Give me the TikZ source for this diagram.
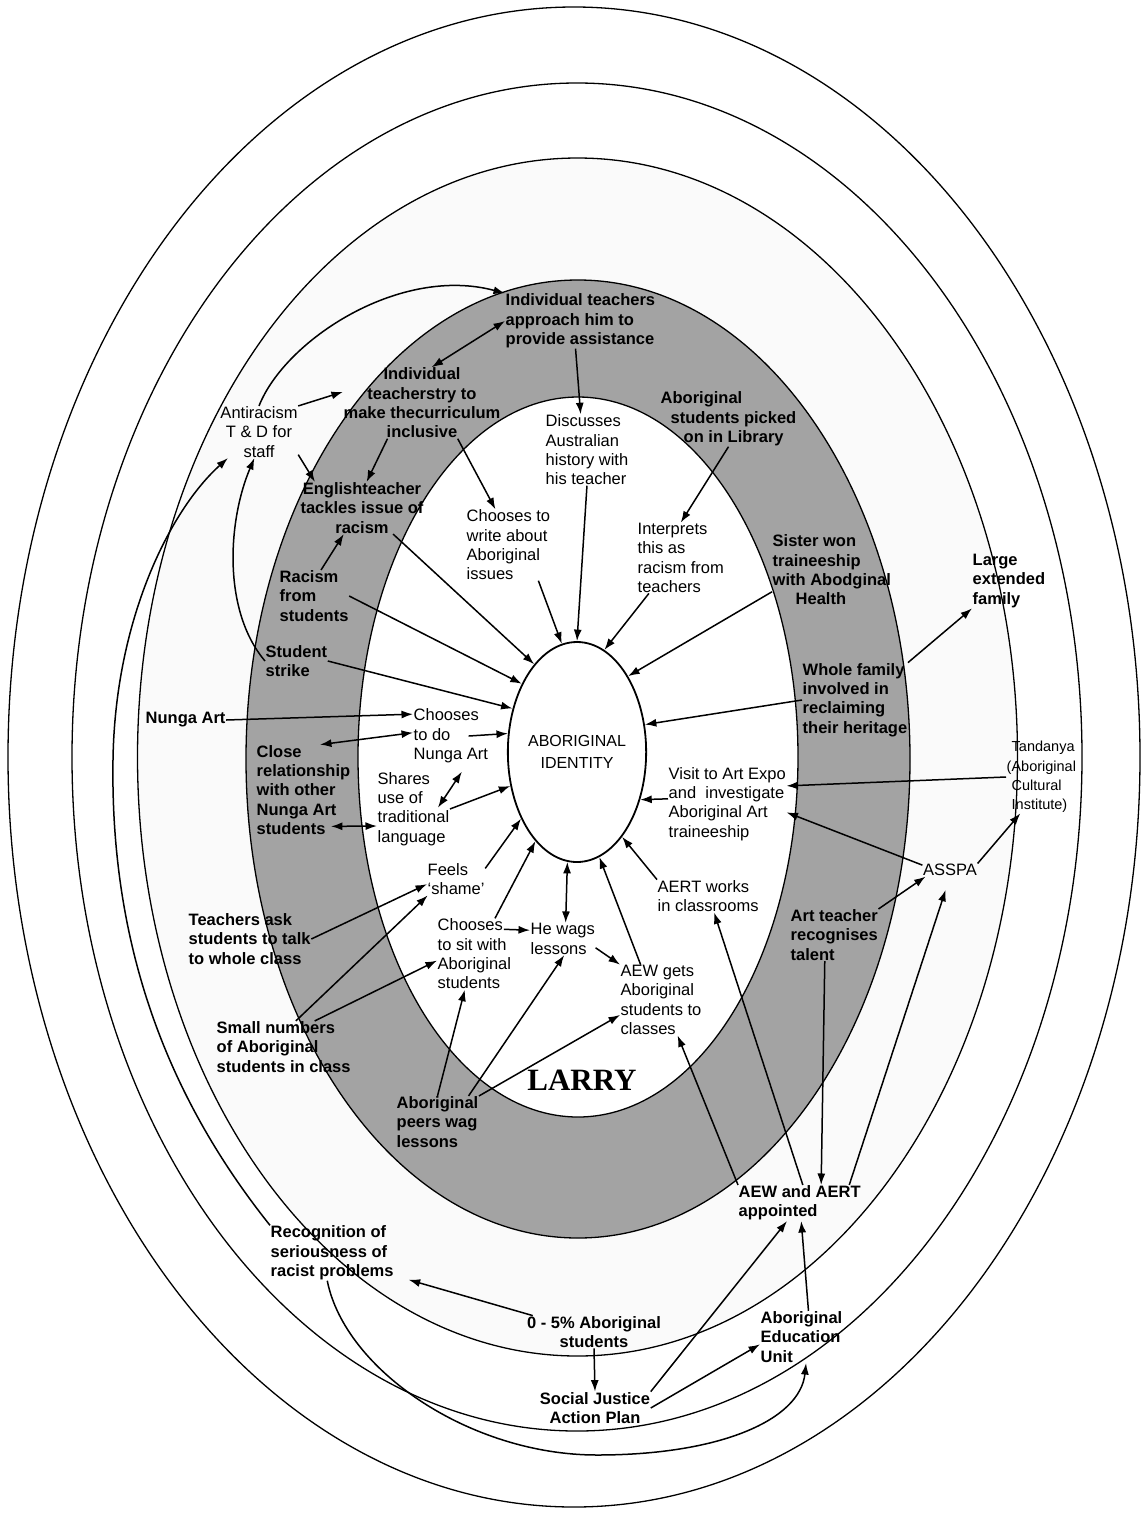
\documentclass[tikz,border=0pt]{standalone}
\usepackage{fontspec}
\setmainfont{Liberation Sans}
\newfontfamily\larryfont{Liberation Serif}
\usetikzlibrary{arrows.meta,shapes.geometric,calc}
\definecolor{ringgray}{gray}{0.64}
\begin{document}
\begin{tikzpicture}[x=1pt,y=-1pt,
  every node/.style={inner sep=0.5pt},
  lab/.style={font={\fontsize{16.5}{19.3}\selectfont}, align=left, anchor=west},
  labc/.style={font={\fontsize{16.5}{19.3}\selectfont}, align=center},
  blab/.style={font={\fontsize{16.5}{19.3}\selectfont\bfseries}, align=left, anchor=west},
  blabc/.style={font={\fontsize{16.5}{19.3}\selectfont\bfseries}, align=center},
  orb/.style={line width=1.3pt},
  arr/.style={line width=1.5pt, -{Latex[length=11.5pt,width=8pt]}},
  darr/.style={line width=1.5pt, {Latex[length=11.5pt,width=8pt]}-{Latex[length=11.5pt,width=8pt]}},
]
\useasboundingbox (0,0) rectangle (1141,1513);
\fill[white] (0,0) rectangle (1141,1513);

% concentric rings
\fill[black!2] (577.5,757) ellipse [x radius=440, y radius=599];
\fill[ringgray] (578,759) ellipse [x radius=332, y radius=479];
\fill[white] (578,757) ellipse [x radius=220, y radius=360];
\draw[orb] (574,757) ellipse [x radius=566, y radius=750];
\draw[orb] (577,757) ellipse [x radius=505, y radius=674];
\draw[orb] (577.5,757) ellipse [x radius=440, y radius=599];
\draw[orb] (578,759) ellipse [x radius=332, y radius=479];
\draw[orb] (578,757) ellipse [x radius=220, y radius=360];

% ring labels (bold)
\node[blab] (ita) at (505,321) {Individual teachers\\approach him to\\provide assistance};
\node[blabc] (itt) at (422,403) {Individual\\teacherstry to\\make thecurriculum\\inclusive};
\node[blabc] (eng) at (362,508) {Englishteacher\\tackles issue of\\racism};
\node[blab] (rfs) at (279,596) {Racism\\from\\students};
\node[blab] (ss) at (265,661) {Student\\strike};
\node[blab] (close) at (256,790) {Close\\relationship\\with other\\Nunga Art\\students};
\node[blab] (lib) at (660,419) {Aboriginal\\\hspace*{10pt}students picked\\\hspace*{23pt}on in Library};
\node[blab] (sis) at (772,570) {Sister won\\traineeship\\with Abodginal\\\hspace*{23pt}Health};
\node[blab] (wf) at (802,700) {Whole family\\involved in\\reclaiming\\their heritage};
\node[blab] (atr) at (790,935) {Art teacher\\recognises\\talent};
\node[blab] (peers) at (396,1122) {Aboriginal\\peers wag\\lessons};

% inner labels
\node[lab] (disc) at (545,450) {Discusses\\Australian\\history with\\his teacher};
\node[lab] (cwa) at (466,545) {Chooses to\\write about\\Aboriginal\\issues};
\node[lab] (interp) at (637,558) {Interprets\\this as\\racism from\\teachers};
\node[lab] (cdo) at (413,736) {Chooses\\to do\\Nunga Art};
\node[lab] (shares) at (377,809) {Shares\\use of\\traditional\\language};
\node[lab] (feels) at (427,879) {Feels\\`shame'};
\node[lab] (csit) at (437,954) {Chooses\\to sit with\\Aboriginal\\students};
\node[lab] (wags) at (530,939) {He wags\\lessons};
\node[lab] (aewg) at (620,1000) {AEW gets\\Aboriginal\\students to\\classes};
\node[lab] (aert) at (657,896) {AERT works\\in classrooms};
\node[lab] (visit) at (668,804) {Visit to Art Expo\\and\ \ investigate\\Aboriginal Art\\traineeship};

\node[draw, ellipse, line width=1.8pt, minimum width=120pt, minimum height=220pt, inner sep=0pt,
      align=center, font={\fontsize{16}{22}\selectfont}] (id) at (577,752) {ABORIGINAL\\IDENTITY};
\node[font={\larryfont\bfseries\fontsize{31}{31}\selectfont}] (larry) at (582,1080) {LARRY};

% outer labels
\node[labc] (anti) at (259,432) {Antiracism\\T \& D for\\staff};
\node[blab] (nunga) at (145,720) {Nunga Art};
\node[blab] (teach) at (188,939) {Teachers ask\\students to talk\\to whole class};
\node[blab] (small) at (216,1047) {Small numbers\\of Aboriginal\\students in class};
\node[blab] (large) at (972,581) {Large\\extended\\family};
\node[align=left, anchor=west, font={\fontsize{14.5}{19.3}\selectfont}] (tand) at (1006,777) {\hspace*{5pt}Tandanya\\(Aboriginal\\\hspace*{5pt}Cultural\\\hspace*{5pt}Institute)};
\node[labc] (asspa) at (950,870) {ASSPA};
\node[blab] (aewa) at (738,1203) {AEW and AERT\\appointed};
\node[blab] (recog) at (270,1253) {Recognition of\\seriousness of\\racist problems};
\node[blabc] (pct) at (594,1332) {0 - 5\% Aboriginal\\students};
\node[blabc] (sjap) at (595,1408) {Social Justice\\Action Plan};
\node[blab] (aeu) at (760,1337) {Aboriginal\\Education\\Unit};

% connectors, upper left
\draw[arr] (anti.north east) -- (itt.172);
\draw[arr] (anti.-30) -- (eng.151);
\draw[arr] (anti.north) .. controls (285,340) and (400,265) .. (ita.north west);
\draw[darr] (itt.75) -- (ita.west);
\draw[arr] (itt.-134) -- (eng.80);
\draw[arr] (itt.-45) -- (cwa.110);
\draw[arr] (ita.-100) -- (disc.100);
\draw[arr] (disc.south) -- (id.north);
\draw[arr] (cwa.-50) -- (id.98);
\draw[arr] (eng.-40) -- (id.116);
\draw[arr] (rfs.east) -- (id.129);
\draw[arr] (rfs.75) -- (eng.-125);
\draw[arr] (ss.east) -- (id.146);
\draw[arr] (ss.west) .. controls (222,610) and (228,520) .. (anti.-100);

% upper right
\draw[arr] (lib.south) -- (interp.north);
\draw[arr] (interp.-132) -- (id.75);
\draw[arr] (sis.-160) -- (id.56);
\draw[arr] (wf.west) -- (id.22);
\draw[arr] (wf.north east) -- (large.south west);

% left middle
\draw[arr] (nunga.east) -- (cdo.150);
\draw[darr] (cdo.175) -- (close.70);
\draw[arr] ([xshift=-20pt]cdo.east) -- (id.165);
\draw[darr] ($(shares.north east)+(-12,36)$) -- ($(cdo.south)+(11,8)$);
\draw[arr] (shares.east) -- (id.207);
\draw[darr] ($(close.south east)+(-20,-9)$) -- (shares.-155);
\draw[arr] (feels.20) -- (id.230);
\draw[arr] (csit.60) -- (id.245);
\draw[arr] (teach.east) -- (feels.-170);
\draw[arr] (small.65) -- (feels.-150);
\draw[arr] (small.40) -- (csit.-170);
\draw[arr] ($(csit.north east)+(-8,11)$) -- (wags.165);
\draw[darr] (wags.80) -- (id.-95);
\draw[arr] (wags.-15) -- (aewg.north west);
\draw[arr] (aewg.120) -- (id.-78);
\draw[arr] (aert.north west) -- (id.-62);
\draw[arr] (visit.175) -- (id.-37);

% right side
\draw[arr] (tand.west) -- (visit.17);
\draw[arr] (asspa.170) -- (visit.-8);
\draw[arr] (atr.north east) -- (asspa.-165);
\draw[arr] (asspa.north east) -- (tand.-120);
\draw[arr] (aewa.north west) -- (aewg.-65);
\draw[arr] (aewa.80) -- (aert.-70);
\draw[arr] (atr.-110) -- (aewa.40);
\draw[arr, shorten >=14pt] (aewa.20) -- (asspa.south);

% peers
\draw[arr] (peers.north) -- (csit.-105);
\draw[arr] (peers.40) -- (wags.-85);
\draw[arr] (peers.north east) -- (aewg.-160);

% bottom
\draw[arr] (recog.north west) .. controls (170,1100) and (110,950) .. (113,760)
           .. controls (115,620) and (170,510) .. (anti.-140);
\draw[arr] (recog.-100) .. controls (345,1370) and (470,1455) .. (597,1455)
           .. controls (720,1455) and (800,1420) .. (aeu.-80);
\draw[arr, shorten >=15pt] (pct.165) -- (recog.-20);
\draw[arr] (pct.south) -- (sjap.north);
\draw[arr] (sjap.north east) -- (aewa.-125);
\draw[arr] (sjap.east) -- (aeu.-170);
\draw[arr] (aeu.75) -- (aewa.-85);
\end{tikzpicture}
\end{document}
